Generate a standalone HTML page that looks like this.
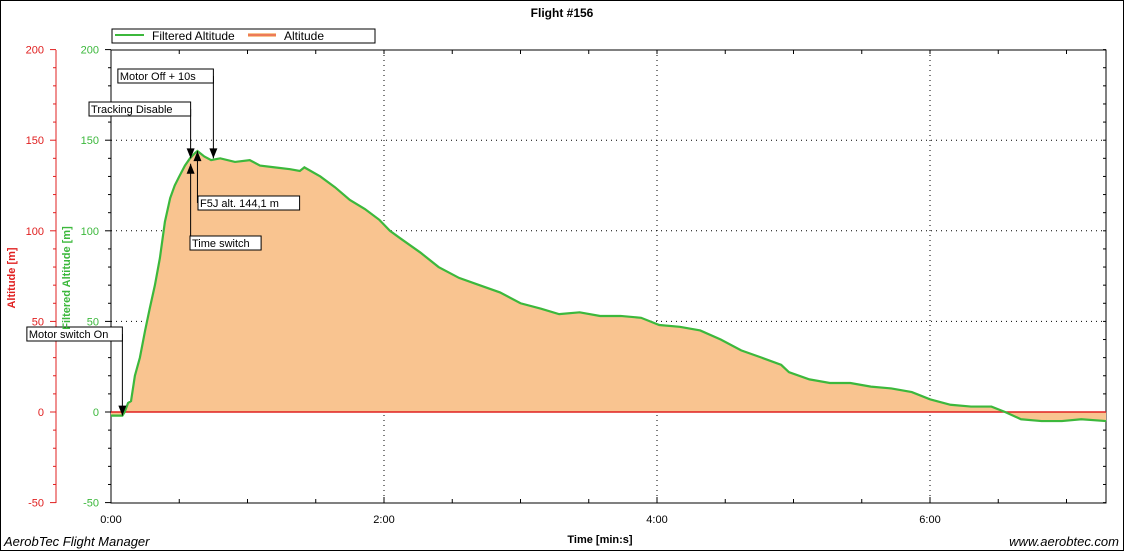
<!DOCTYPE html>
<html><head><meta charset="utf-8"><style>
body{margin:0;background:#fff;font-family:"Liberation Sans",sans-serif}
svg{display:block}
</style></head><body>
<svg id="c" width="1124" height="551" viewBox="0 0 1124 551">
<rect x="0.5" y="0.5" width="1123" height="550" fill="#fff" stroke="#000"/>
<text x="562" y="17" text-anchor="middle" font-size="12" font-weight="bold">Flight #156</text>
<g>
<rect x="112" y="29" width="263" height="14" fill="#fff" stroke="#000"/>
<line x1="115" y1="35" x2="144" y2="35" stroke="#3cb83c" stroke-width="2"/>
<text x="152" y="40" font-size="12">Filtered Altitude</text>
<rect x="248" y="33" width="28" height="4" fill="#f9c490"/>
<line x1="248" y1="35" x2="276" y2="35" stroke="#e03020" stroke-width="1"/>
<text x="284" y="40" font-size="12">Altitude</text>
</g>
<g id="grid"></g>
<g id="axes"></g>
<g id="series"></g>
<g id="ann"></g>
<text x="15" y="278" font-size="11" font-weight="bold" fill="#e02020" transform="rotate(-90 15 278)" text-anchor="middle">Altitude [m]</text>
<text x="70" y="278" font-size="11" font-weight="bold" fill="#3cb83c" transform="rotate(-90 70 278)" text-anchor="middle">Filtered Altitude [m]</text>
<text x="600" y="543" font-size="11" font-weight="bold" text-anchor="middle">Time [min:s]</text>
<text x="4" y="546" font-size="13" font-style="italic">AerobTec Flight Manager</text>
<text x="1119" y="546" font-size="13" font-style="italic" text-anchor="end">www.aerobtec.com</text>
</svg>
<script>
const times=[0,5,6,7.5,8.8,10.5,12.7,15,17,19.3,21.5,23.7,26,28,30,32.5,34.7,37,38,41,44,48,54.5,61,65.5,72,78.7,83,85,92,98.5,105,111.6,118,122.6,127,136,144,153,162,171,180,189,197,206,215,224,233,241,250,259,268,277,286,294.6,298,307,316,325,334,343,352,360,369,378,387,393,400,409,418,426.5,437.4];
const altitude=[-2,-2,0,5,6,20,30,45,57,70,85,105,118,125,130,136,140,143,144,141,139,140,138,139,136,135,134,133,135,130,124,117,112,106,100,96,88,80,74,70,66,60,57,54,55,53,53,52,48,47,45,40,34,30,26,22,18,16,16,14,13,11,7,4,3,3,0,-4,-5,-5,-4,-5];
const yTicks=[-50,0,50,100,150,200];
const xTicks=[0,120,240,360];
const xTickLabels=["0:00","2:00","4:00","6:00"];
const annotations=[
 {label:"Motor switch On",t:5,alt:-2,ly:334,lx:38,dir:"down"},
 {label:"Tracking Disable",t:35,alt:140,ly:109,lx:102,dir:"down"},
 {label:"Motor Off + 10s",t:45,alt:140,ly:76,lx:132,dir:"down"},
 {label:"F5J alt. 144,1 m",t:38,alt:144,ly:203,lx:198,dir:"up"},
 {label:"Time switch",t:35,alt:137,ly:243,lx:190,dir:"up"}
];
const NS="http://www.w3.org/2000/svg";
const L=111,R=1106,T=50,B=503;
const xs=t=>L+t*(273/120);
const ys=v=>412-v*(453/250);
function mk(tag,attrs,parent,text){const e=document.createElementNS(NS,tag);for(const k in attrs)e.setAttribute(k,attrs[k]);if(text!==undefined)e.textContent=text;document.getElementById(parent).appendChild(e);return e;}
// grid
yTicks.forEach(v=>{if(v>-50&&v<200&&v!==0){const g=mk('line',{x1:L,x2:R,y1:ys(v),y2:ys(v),stroke:'#000','stroke-dasharray':'1,4'},'grid');

}});
xTicks.forEach(t=>{if(t>0){const g=mk('line',{x1:xs(t),x2:xs(t),y1:T,y2:B,stroke:'#000','stroke-dasharray':'1,4'},'grid');

}});
// series
let fill="M"+xs(times[0])+","+ys(0);
times.forEach((t,i)=>fill+=" L"+xs(t)+","+ys(altitude[i]));
fill+=" L"+xs(times[times.length-1])+","+ys(0)+"Z";
const f=mk('path',{d:fill,fill:'#f9c490'},'series');


const z=mk('line',{x1:L,x2:R,y1:ys(0),y2:ys(0),stroke:'#e02020','stroke-width':1.5},'series');


const ln=mk('polyline',{points:times.map((t,i)=>xs(t)+","+ys(altitude[i])).join(" "),fill:'none',stroke:'#3cb83c','stroke-width':2.2},'series');


// axes
const fr=mk('rect',{x:L,y:T,width:R-L,height:B-T,fill:'none',stroke:'#000'},'axes');


const ra=mk('line',{x1:56,x2:56,y1:T,y2:B,stroke:'#e02020'},'axes');


for(let v=-50;v<=200;v+=10){const maj=v%50===0;
mk('line',{x1:maj?50:53,x2:56,y1:ys(v),y2:ys(v),stroke:'#e02020'},'axes');
mk('line',{x1:maj?105:108,x2:L,y1:ys(v),y2:ys(v),stroke:'#000'},'axes');
mk('line',{x1:R-3,x2:R,y1:ys(v),y2:ys(v),stroke:'#000'},'axes');}
yTicks.forEach(v=>{
const a=mk('text',{x:44,y:ys(v)+4,'font-size':11,fill:'#e02020','text-anchor':'end'},'axes',String(v));


const b=mk('text',{x:99,y:ys(v)+4,'font-size':11,fill:'#3cb83c','text-anchor':'end'},'axes',String(v));

});
for(let t=0;t<=437;t+=30){mk('line',{x1:xs(t),x2:xs(t),y1:B,y2:B-(t%120===0?6:4),stroke:'#000'},'axes');mk('line',{x1:xs(t),x2:xs(t),y1:T,y2:T+4,stroke:'#000'},'axes');}
xTicks.forEach((t,i)=>{const a=mk('text',{x:xs(t),y:523,'font-size':11,'text-anchor':'middle'},'axes',xTickLabels[i]);

});
// annotations
annotations.forEach(a=>{const x=xs(a.t),y=ys(a.alt);
const g=mk('g',{},'ann');


const w=a.label.length*6.1+4;
const bx=a.dir==="down"?x-w:a.lx;
const ln=document.createElementNS(NS,'line');ln.setAttribute('x1',x);ln.setAttribute('x2',x);ln.setAttribute('y1',a.ly);ln.setAttribute('y2',y);ln.setAttribute('stroke','#000');g.appendChild(ln);
const ar=document.createElementNS(NS,'polygon');
ar.setAttribute('points',a.dir==="down"?`${x-4},${y-10} ${x+4},${y-10} ${x},${y}`:`${x-4},${y+10} ${x+4},${y+10} ${x},${y}`);g.appendChild(ar);
const r=document.createElementNS(NS,'rect');r.setAttribute('x',bx);r.setAttribute('y',a.ly-7);r.setAttribute('width',w);r.setAttribute('height',14);r.setAttribute('fill','#fff');r.setAttribute('stroke','#000');g.appendChild(r);
const tx=document.createElementNS(NS,'text');tx.setAttribute('x',bx+2);tx.setAttribute('y',a.ly+4);tx.setAttribute('font-size',11);tx.textContent=a.label;g.appendChild(tx);});
</script>
</body></html>
